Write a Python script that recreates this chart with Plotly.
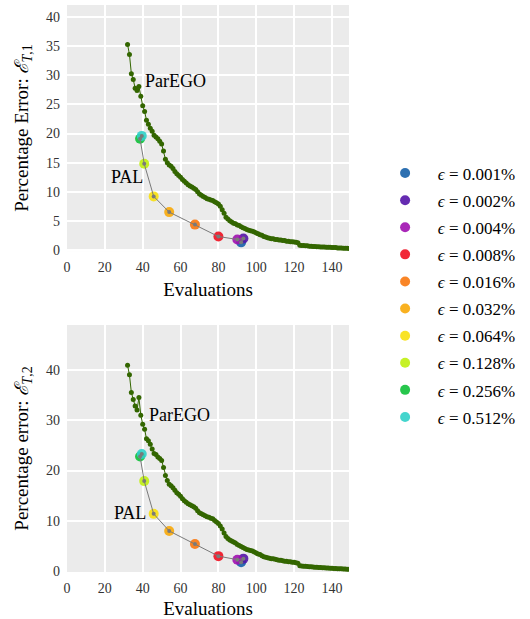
import plotly.graph_objects as go
from plotly.subplots import make_subplots

# ParEGO: one point per evaluation
evals = list(range(32, 151))
parego_e1 = [
    35.3, 33.6, 30.3, 29.3, 27.8, 27.4, 28.1, 26.4, 24.8, 23.8,
    22.3, 21.6, 20.9, 20.4, 19.7, 19.4, 19.1, 18.7, 18.2, 17.0,
    15.6, 15.0, 14.6, 14.4, 14.0, 13.5, 13.1, 12.8, 12.5, 12.1,
    11.8, 11.5, 11.2, 11.0, 10.8, 10.6, 10.4, 10.0, 9.6, 9.4,
    9.2, 9.0, 8.8, 8.7, 8.6, 8.5, 8.3, 8.1, 7.9, 7.5,
    6.9, 6.3, 5.6, 5.3, 5.0, 4.8, 4.6, 4.5, 4.3, 4.2,
    4.0, 3.8, 3.7, 3.5, 3.4, 3.3, 3.2, 3.1, 2.9, 2.8,
    2.6, 2.5, 2.3, 2.2, 2.1, 2.0, 1.9, 1.9, 1.8, 1.8,
    1.7, 1.7, 1.6, 1.6, 1.5, 1.5, 1.4, 1.4, 1.35, 1.3,
    1.25, 0.8, 0.75, 0.75, 0.7, 0.7, 0.65, 0.65, 0.6, 0.6,
    0.55, 0.55, 0.5, 0.5, 0.5, 0.45, 0.45, 0.45, 0.4, 0.4,
    0.4, 0.35, 0.35, 0.35, 0.3, 0.3, 0.3, 0.25, 0.25,
]
parego_e2 = [
    40.9, 39.0, 35.5, 34.1, 32.8, 32.0, 34.5, 31.0, 29.2, 28.2,
    26.3, 25.9, 25.2, 24.3, 23.4, 23.2, 22.7, 22.4, 22.0, 20.6,
    19.0, 18.0, 17.3, 17.0, 16.6, 16.1, 15.6, 15.3, 14.9, 14.4,
    14.0, 13.7, 13.4, 13.2, 13.0, 12.8, 12.5, 12.0, 11.6, 11.4,
    11.2, 11.0, 10.8, 10.7, 10.5, 10.4, 10.1, 9.8, 9.5, 9.0,
    8.4, 7.6, 6.9, 6.5, 6.2, 6.0, 5.8, 5.6, 5.3, 5.1,
    4.9, 4.7, 4.5, 4.3, 4.2, 4.1, 4.0, 3.8, 3.6, 3.4,
    3.3, 3.1, 2.9, 2.8, 2.7, 2.6, 2.5, 2.5, 2.4, 2.3,
    2.2, 2.2, 2.1, 2.0, 2.0, 1.9, 1.9, 1.8, 1.8, 1.7,
    1.6, 1.1, 1.05, 1.0, 1.0, 0.95, 0.9, 0.9, 0.85, 0.8,
    0.8, 0.75, 0.75, 0.7, 0.7, 0.65, 0.65, 0.6, 0.6, 0.55,
    0.55, 0.5, 0.5, 0.5, 0.45, 0.45, 0.4, 0.4, 0.4,
]

# PAL, one point per epsilon (legend order)
eps_labels = ["0.001", "0.002", "0.004", "0.008", "0.016",
              "0.032", "0.064", "0.128", "0.256", "0.512"]
eps_colors = ["#1660a8", "#5414a8", "#a010b0", "#f01020", "#f87810",
              "#f8a808", "#f8e010", "#c0f010", "#10c038", "#30d0c8"]
pal_x = [92.0, 93.2, 90.0, 80.0, 67.6, 54.0, 45.8, 40.8, 38.6, 39.5]
pal_e1 = [1.3, 1.95, 1.8, 2.3, 4.35, 6.5, 9.2, 14.8, 19.1, 19.6]
pal_e2 = [1.8, 2.5, 2.3, 3.0, 5.4, 8.0, 11.4, 17.9, 22.8, 23.3]

FONT = "Liberation Serif, DejaVu Serif, serif"

fig = make_subplots(rows=2, cols=1)

panels = [(1, parego_e1, pal_e1), (2, parego_e2, pal_e2)]
for row, parego, pal in panels:
    fig.add_trace(go.Scatter(x=evals, y=parego, mode="lines+markers",
                             line=dict(color="#336600", width=1),
                             marker=dict(size=5, color="#336600"),
                             showlegend=False), row=row, col=1)
    for i, lab in enumerate(eps_labels):
        fig.add_trace(go.Scatter(x=[pal_x[i]], y=[pal[i]], mode="markers",
                                 marker=dict(size=10, color=eps_colors[i], opacity=0.9),
                                 name="\u00a0\u00a0\u00a0<i>ϵ</i> = " + lab + "%",
                                 legendgroup=lab, showlegend=(row == 1)),
                      row=row, col=1)
    fig.add_trace(go.Scatter(x=pal_x[::-1], y=pal[::-1], mode="lines+markers",
                             line=dict(color="#7a7a7a", width=1),
                             marker=dict(size=4, color="#7a7a7a"),
                             showlegend=False), row=row, col=1)

axis_style = dict(showgrid=True, gridcolor="white", gridwidth=1.5, zeroline=False,
                  showline=False, tickfont=dict(family=FONT, size=14, color="#333"),
                  ticklabelstandoff=6, automargin=False)

fig.update_xaxes(range=[0, 149], dtick=20, **axis_style)
fig.update_xaxes(title=dict(text="Evaluations", font=dict(family=FONT, size=19, color="black"),
                            standoff=8))
fig.update_yaxes(**axis_style)
sub = "<span style='font-size:14px'><i>T</i>,1</span>"
fig.update_yaxes(domain=[0.566, 1.0], range=[-0.2, 42.1], dtick=5, row=1, col=1,
                 title=dict(text="Percentage Error: <i>ℰ</i><sub>" + sub + "</sub>",
                            font=dict(family=FONT, size=19, color="black"), standoff=12))
sub = "<span style='font-size:14px'><i>T</i>,2</span>"
fig.update_yaxes(domain=[0.0, 0.4356], range=[-0.15, 48.9], dtick=10, row=2, col=1,
                 title=dict(text="Percentage error: <i>ℰ</i><sub>" + sub + "</sub>",
                            font=dict(family=FONT, size=19, color="black"), standoff=12))

ann_font = dict(family=FONT, size=18, color="black")
fig.add_annotation(x=57.5, y=29.1, xref="x", yref="y", text="ParEGO", showarrow=False, font=ann_font)
fig.add_annotation(x=31.6, y=12.6, xref="x", yref="y", text="PAL", showarrow=False, font=ann_font)
fig.add_annotation(x=59.7, y=31.1, xref="x2", yref="y2", text="ParEGO", showarrow=False, font=ann_font)
fig.add_annotation(x=33.2, y=11.6, xref="x2", yref="y2", text="PAL", showarrow=False, font=ann_font)

fig.update_layout(
    width=530, height=619,
    margin=dict(l=67, r=181, t=5, b=47),
    paper_bgcolor="white", plot_bgcolor="#ebebeb",
    font=dict(family=FONT, color="black"),
    legend=dict(x=1.128, xanchor="left", y=0.4885, yanchor="middle",
                traceorder="grouped", tracegroupgap=2, itemsizing="trace",
                font=dict(family=FONT, size=17, color="black"),
                bgcolor="rgba(0,0,0,0)"),
)

fig.write_html("out.html", config={"displayModeBar": False},
               post_script="document.body.style.margin='0';")
